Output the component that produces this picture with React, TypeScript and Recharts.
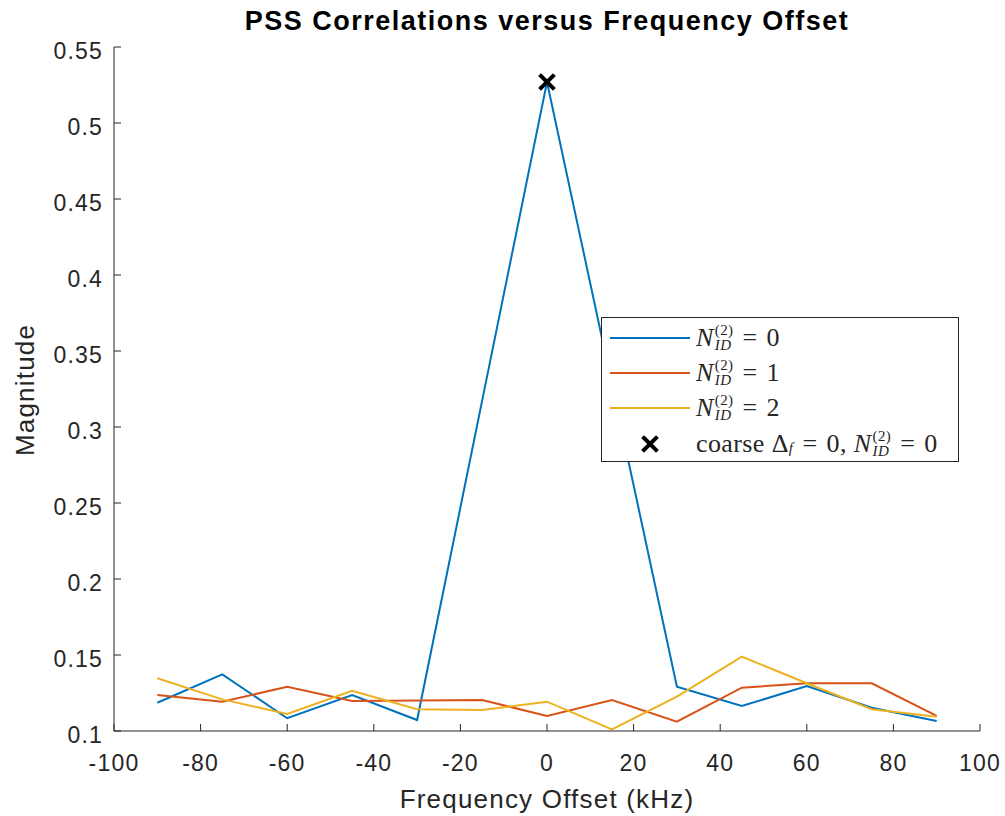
import React from "react";
import { ComposedChart, Line, Scatter, XAxis, YAxis } from "recharts";

const offsets = [-90, -75, -60, -45, -30, -15, 0, 15, 30, 45, 60, 75, 90];
const nid0 = [0.1186, 0.1373, 0.1084, 0.1237, 0.1072, 0.317, 0.527, 0.328, 0.1291, 0.1164, 0.1296, 0.1153, 0.1066];
const nid1 = [0.1237, 0.1193, 0.1291, 0.1197, 0.12, 0.1204, 0.1099, 0.1204, 0.1061, 0.1285, 0.1314, 0.1314, 0.1099];
const nid2 = [0.1347, 0.1208, 0.1112, 0.1265, 0.1143, 0.1138, 0.1193, 0.1011, 0.1226, 0.1489, 0.1314, 0.1143, 0.1094];
const peak = [{ f: 0, mag: 0.527 }];

const xTicks = [-100, -80, -60, -40, -20, 0, 20, 40, 60, 80, 100];
const yTicks = [0.1, 0.15, 0.2, 0.25, 0.3, 0.35, 0.4, 0.45, 0.5, 0.55];

const BLUE = "#0072BD";
const RED = "#D95319";
const YELLOW = "#EDB120";
const AXIS = "#262626";
const SANS = "'Liberation Sans', Arial, sans-serif";

const data = offsets.map((f, i) => ({ f, n0: nid0[i], n1: nid1[i], n2: nid2[i] }));

const fmt = (v: number) => String(Number(v.toFixed(2)));

// matlab-ish tick labels: bigger, a little loose
const XTick = (p: any) => (
  <text x={p.x} y={771} textAnchor="middle" fontSize={23} letterSpacing={1.2} fill={AXIS} fontFamily={SANS}>
    {p.payload.value}
  </text>
);
const YTick = (p: any) => (
  <text x={103} y={p.payload.coordinate + 12} textAnchor="end" fontSize={23} letterSpacing={1.2} fill={AXIS} fontFamily={SANS}>
    {fmt(p.payload.value)}
  </text>
);

const Cross = (props: any) => {
  const { cx, cy } = props;
  if (cx == null || cy == null) return null;
  return (
    <g stroke="#000" strokeWidth={4} strokeLinecap="square">
      <line x1={cx - 6} y1={cy - 6} x2={cx + 6} y2={cy + 6} />
      <line x1={cx - 6} y1={cy + 6} x2={cx + 6} y2={cy - 6} />
    </g>
  );
};

const NID = ({ v }: { v: string }) => (
  <span style={{ display: "inline-flex", alignItems: "center" }}>
    <i>N</i>
    <span style={{ display: "inline-flex", flexDirection: "column", fontSize: 15, lineHeight: "15px", marginLeft: 1 }}>
      <span>(2)</span>
      <span style={{ fontStyle: "italic" }}>ID</span>
    </span>
    <span style={{ margin: "0 9px" }}>=</span>
    <span>{v}</span>
  </span>
);

const legendRows = [
  { color: BLUE, v: "0" },
  { color: RED, v: "1" },
  { color: YELLOW, v: "2" },
];

export default function App() {
  return (
    <div style={{ position: "absolute", left: 0, top: 0, width: 1005, height: 816, background: "#fff", fontFamily: SANS }}>
      <ComposedChart width={1005} height={816} data={data} margin={{ top: 47, right: 25, bottom: 35, left: 54 }}>
        <XAxis
          dataKey="f"
          type="number"
          domain={[-100, 100]}
          ticks={xTicks}
          stroke={AXIS}
          tick={<XTick />}
          tickSize={-7}
          tickMargin={8}
          height={50}
          allowDataOverflow
        />
        <YAxis
          type="number"
          domain={[0.1, 0.55]}
          ticks={yTicks}
          stroke={AXIS}
          tick={<YTick />}
          tickSize={-7}
          tickMargin={15}
          width={60}
          allowDataOverflow
        />
        <Line dataKey="n0" stroke={BLUE} strokeWidth={2} dot={false} isAnimationActive={false} />
        <Line dataKey="n1" stroke={RED} strokeWidth={2} dot={false} isAnimationActive={false} />
        <Line dataKey="n2" stroke={YELLOW} strokeWidth={2} dot={false} isAnimationActive={false} />
        <Scatter data={peak} dataKey="mag" shape={<Cross />} isAnimationActive={false} />
      </ComposedChart>

      <div style={{ position: "absolute", left: 114, width: 866, top: 6, textAlign: "center", fontWeight: "bold", fontSize: 27, letterSpacing: 1.5, color: "#000", lineHeight: "31px" }}>
        PSS Correlations versus Frequency Offset
      </div>
      <div style={{ position: "absolute", left: 114, width: 866, top: 784, textAlign: "center", fontSize: 26, letterSpacing: 1.2, color: AXIS, lineHeight: "30px" }}>
        Frequency Offset (kHz)
      </div>
      <div style={{ position: "absolute", left: 25, top: 390, transform: "translate(-50%, -50%) rotate(-90deg)", fontSize: 26, letterSpacing: 1.2, color: AXIS, whiteSpace: "nowrap" }}>
        Magnitude
      </div>

      <div style={{ position: "absolute", left: 601, top: 317, width: 356, height: 143, border: "1px solid #262626", background: "#fff", fontFamily: "'Liberation Serif', 'DejaVu Serif', serif", fontSize: 26, letterSpacing: 0.4, color: "#262626" }}>
        {legendRows.map((r, i) => (
          <div key={i} style={{ position: "absolute", left: 0, top: 4 + i * 35, height: 32, display: "flex", alignItems: "center" }}>
            <div style={{ width: 80, height: 2, background: r.color, marginLeft: 8, marginRight: 6 }} />
            <NID v={r.v} />
          </div>
        ))}
        <div style={{ position: "absolute", left: 0, top: 110, height: 32, display: "flex", alignItems: "center" }}>
          <svg width={94} height={32}>
            <g stroke="#000" strokeWidth={4} strokeLinecap="square">
              <line x1={42} y1={10} x2={54} y2={22} />
              <line x1={42} y1={22} x2={54} y2={10} />
            </g>
          </svg>
          <span style={{ display: "inline-flex", alignItems: "center" }}>
            <span>coarse&nbsp;Δ</span>
            <i style={{ fontSize: 15, alignSelf: "flex-end", marginBottom: 2 }}>f</i>
            <span style={{ margin: "0 9px" }}>=</span>
            <span style={{ marginRight: 7 }}>0,</span>
            <NID v="0" />
          </span>
        </div>
      </div>
    </div>
  );
}
